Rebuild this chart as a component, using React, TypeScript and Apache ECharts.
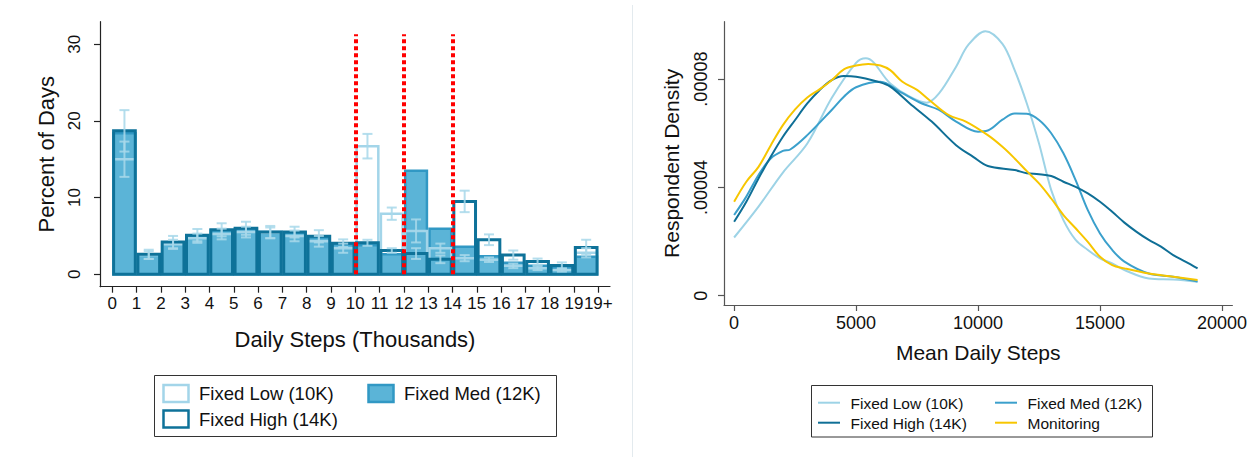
import React, { useEffect, useRef } from "react";
import * as echarts from "echarts";

// ---------- Left panel: histogram of daily steps ----------
const bins = [0, 1, 2, 3, 4, 5, 6, 7, 8, 9, 10, 11, 12, 13, 14, 15, 16, 17, 18, 19];
const binTicks = [0, 1, 2, 3, 4, 5, 6, 7, 8, 9, 10, 11, 12, 13, 14, 15, 16, 17, 18, 19, 20];
const binTickLabels = ["0", "1", "2", "3", "4", "5", "6", "7", "8", "9", "10", "11", "12", "13", "14", "15", "16", "17", "18", "19", "19+"];
const pctTicks = [0, 10, 20, 30];
const goalLines = [10, 12, 14];

const lowPct = [15.0, 2.5, 3.9, 4.7, 5.25, 5.5, 5.4, 5.0, 4.3, 3.4, 16.7, 7.9, 5.65, 3.4, 2.1, 1.9, 1.1, 0.8, 0.55, 2.8];
const medPct = [18.4, 2.6, 4.1, 5.0, 5.7, 5.9, 5.5, 5.4, 4.8, 3.9, 3.8, 2.6, 13.5, 5.95, 3.6, 2.35, 1.5, 1.1, 0.8, 2.3];
const highPct = [18.7, 2.6, 4.2, 5.1, 5.8, 6.0, 5.5, 5.5, 4.95, 4.05, 4.1, 3.1, 2.7, 1.95, 9.5, 4.5, 2.5, 1.65, 1.15, 3.5];
const lowErr = [2.3, 0.5, 0.6, 0.6, 0.7, 0.7, 0.7, 0.7, 0.7, 0.6, 1.6, 0.8, 1.5, 0.6, 0.4, 0.3, 0.3, 0.25, 0.2, 0.6];
const highErr = [2.7, 0.6, 0.8, 0.8, 0.85, 0.85, 0.8, 0.7, 0.8, 0.5, 0.4, 0.3, 0.7, 0.5, 1.4, 0.7, 0.6, 0.4, 0.4, 1.0];

// ---------- Right panel: respondent density of mean daily steps ----------
const stepTicks = [0, 5000, 10000, 15000, 20000];
const densityTicks = [0, 0.00004, 0.00008];

const lowDensity = [
  [0, 2.15e-5], [1000, 3.29e-5], [2000, 4.55e-5], [3000, 5.62e-5], [4000, 7.3e-5], [5000, 8.6e-5],
  [5400, 8.77e-5], [6400, 7.84e-5], [7200, 7.35e-5], [7900, 7.13e-5], [8400, 7.47e-5], [9100, 8.46e-5],
  [9600, 9.26e-5], [10300, 9.77e-5], [11000, 9.3e-5], [11500, 8.33e-5], [12000, 7.1e-5], [12500, 5.62e-5],
  [13000, 3.9e-5], [13500, 2.79e-5], [14000, 2.06e-5], [14500, 1.69e-5], [15000, 1.38e-5], [15500, 1.19e-5],
  [16000, 0.95e-5], [17000, 0.64e-5], [18000, 0.6e-5], [19000, 0.52e-5],
];
const medDensity = [
  [0, 2.98e-5], [500, 3.66e-5], [1000, 4.46e-5], [1500, 5.07e-5], [2000, 5.35e-5], [2300, 5.4e-5],
  [3000, 5.93e-5], [4000, 6.86e-5], [4500, 7.35e-5], [5000, 7.7e-5], [6000, 7.9e-5], [6800, 7.53e-5],
  [7700, 7.1e-5], [8400, 6.86e-5], [9100, 6.43e-5], [10000, 6.06e-5], [10400, 6.1e-5], [11000, 6.5e-5],
  [11500, 6.73e-5], [12000, 6.72e-5], [12500, 6.49e-5], [13000, 6.0e-5], [13500, 5.26e-5], [14000, 4.27e-5],
  [14500, 3.16e-5], [15000, 2.3e-5], [15500, 1.69e-5], [16000, 1.26e-5], [17000, 0.82e-5], [18000, 0.7e-5],
  [19000, 0.52e-5],
];
const highDensity = [
  [0, 2.73e-5], [500, 3.47e-5], [1000, 4.33e-5], [1500, 5.13e-5], [2000, 5.87e-5], [2500, 6.49e-5],
  [3000, 7.1e-5], [3500, 7.59e-5], [4000, 7.96e-5], [4500, 8.11e-5], [5000, 8.09e-5], [5900, 7.9e-5],
  [6400, 7.72e-5], [7200, 7.1e-5], [8100, 6.43e-5], [9100, 5.56e-5], [9800, 5.13e-5], [10400, 4.79e-5],
  [11500, 4.64e-5], [12000, 4.52e-5], [12500, 4.49e-5], [13000, 4.42e-5], [13500, 4.21e-5], [14000, 4.02e-5],
  [14500, 3.78e-5], [15000, 3.47e-5], [15500, 3.1e-5], [16000, 2.7e-5], [16500, 2.36e-5], [17000, 2.06e-5],
  [17500, 1.81e-5], [18000, 1.5e-5], [18500, 1.26e-5], [19000, 1.01e-5],
];
const monDensity = [
  [0, 3.47e-5], [500, 4.21e-5], [1000, 4.76e-5], [1500, 5.55e-5], [2000, 6.3e-5], [2500, 6.88e-5],
  [3000, 7.32e-5], [3500, 7.62e-5], [4000, 7.96e-5], [4500, 8.36e-5], [5000, 8.5e-5], [5500, 8.56e-5],
  [6000, 8.5e-5], [6400, 8.33e-5], [6900, 7.9e-5], [7500, 7.6e-5], [8000, 7.23e-5], [8800, 6.67e-5],
  [9500, 6.43e-5], [10400, 5.93e-5], [11000, 5.5e-5], [11500, 5.07e-5], [12000, 4.6e-5], [12500, 4.15e-5],
  [13000, 3.59e-5], [13500, 2.98e-5], [14000, 2.49e-5], [14500, 1.99e-5], [15000, 1.44e-5], [15500, 1.13e-5],
  [16000, 1.01e-5], [17000, 0.82e-5], [18000, 0.7e-5], [19000, 0.58e-5],
];

const FONT = "'Liberation Sans', Arial, Helvetica, sans-serif";
const TXT = "#111";
const C_LOW = "#a3d5e9";
const C_MED_FILL = "#5bb4d7";
const C_MED_LINE = "#3198c4";
const C_HIGH = "#0e7299";
const C_ERR = "#a8d8ea";
const L_LOW = "#9dd3e6";
const L_MED = "#3ba0cc";
const L_HIGH = "#0f6f96";
const L_MON = "#f7c600";

function barSeries(name: string, vals: number[], fill: string, stroke: string, lw: number) {
  return {
    type: "custom",
    name,
    xAxisIndex: 0,
    yAxisIndex: 0,
    data: vals.map((v, i) => [bins[i], v]),
    encode: { x: 0, y: 1 },
    renderItem: (_p: any, api: any) => {
      const x = api.value(0);
      const v = api.value(1);
      const p0 = api.coord([x, v]);
      const p1 = api.coord([x + 1, 0]);
      return {
        type: "rect",
        shape: { x: p0[0] + 1.3, y: p0[1], width: p1[0] - p0[0] - 2.6, height: p1[1] - p0[1] },
        style: { fill, stroke, lineWidth: lw },
      };
    },
  };
}

function errSeries(name: string, vals: number[], errs: number[]) {
  return {
    type: "custom",
    name,
    xAxisIndex: 0,
    yAxisIndex: 0,
    data: vals.map((v, i) => [bins[i] + 0.5, v - errs[i], v + errs[i]]),
    encode: { x: 0, y: [1, 2] },
    renderItem: (_p: any, api: any) => {
      const c = api.value(0);
      const top = api.coord([c, api.value(2)]);
      const bot = api.coord([c, api.value(1)]);
      const st = { stroke: C_ERR, lineWidth: 2, opacity: 0.85, fill: "none" };
      return {
        type: "group",
        children: [
          { type: "line", shape: { x1: top[0], y1: top[1], x2: bot[0], y2: bot[1] }, style: st },
          { type: "line", shape: { x1: top[0] - 5, y1: top[1], x2: top[0] + 5, y2: top[1] }, style: st },
          { type: "line", shape: { x1: bot[0] - 5, y1: bot[1], x2: bot[0] + 5, y2: bot[1] }, style: st },
        ],
      };
    },
  };
}

function lineSeries(name: string, pts: number[][], color: string) {
  return {
    type: "line",
    name,
    xAxisIndex: 1,
    yAxisIndex: 1,
    data: pts,
    smooth: 0.35,
    showSymbol: false,
    symbol: "none",
    lineStyle: { color, width: 2 },
  };
}

const axisCommon = {
  axisLine: { onZero: false, lineStyle: { color: "#222", width: 1.2 } },
  axisTick: { length: 6, lineStyle: { color: "#222", width: 1.2 } },
  splitLine: { show: false },
};

export default function App() {
  const ref = useRef<HTMLDivElement>(null);
  useEffect(() => {
    document.body.style.margin = "0";
    const chart = echarts.init(ref.current!, null, { renderer: "svg" });
    const option: any = {
      animation: false,
      backgroundColor: "#fff",
      textStyle: { fontFamily: FONT },
      grid: [
        { left: 100, top: 21.7, width: 510, height: 265 },
        { left: 724, top: 21.7, width: 517.7, height: 283.3 },
      ],
      xAxis: [
        {
          type: "value",
          gridIndex: 0,
          min: -0.506,
          max: 20.48,
          ...axisCommon,
          axisTick: { ...axisCommon.axisTick, customValues: binTicks },
          axisLabel: {
            customValues: binTicks,
            formatter: (v: number) => binTickLabels[binTicks.indexOf(Math.round(v))] ?? "",
            color: TXT,
            fontSize: 17,
            fontFamily: FONT,
            margin: 8,
            hideOverlap: false,
          },
          name: "Daily Steps (Thousands)",
          nameLocation: "middle",
          nameGap: 42,
          nameTextStyle: { color: TXT, fontSize: 22, fontFamily: FONT },
        },
        {
          type: "value",
          gridIndex: 1,
          min: -415,
          max: 20427,
          ...axisCommon,
          axisLine: { onZero: false, lineStyle: { color: "#555", width: 1.2 } },
          axisTick: { length: 6, lineStyle: { color: "#555", width: 1.2 }, customValues: stepTicks },
          axisLabel: {
            customValues: stepTicks,
            formatter: (v: number) => String(Math.round(v)),
            color: TXT,
            fontSize: 18,
            fontFamily: FONT,
            margin: 9,
          },
          name: "Mean Daily Steps",
          nameLocation: "middle",
          nameGap: 37,
          nameTextStyle: { color: TXT, fontSize: 21, fontFamily: FONT },
        },
      ],
      yAxis: [
        {
          type: "value",
          gridIndex: 0,
          min: -1.62,
          max: 32.93,
          ...axisCommon,
          axisTick: { ...axisCommon.axisTick, customValues: pctTicks },
          axisLabel: {
            customValues: pctTicks,
            rotate: 90,
            color: TXT,
            fontSize: 17,
            fontFamily: FONT,
            margin: 17,
          },
          name: "Percent of Days",
          nameLocation: "middle",
          nameGap: 43,
          nameTextStyle: { color: TXT, fontSize: 22, fontFamily: FONT },
        },
        {
          type: "value",
          gridIndex: 1,
          min: -3.43e-6,
          max: 1.012e-4,
          ...axisCommon,
          axisLine: { onZero: false, lineStyle: { color: "#555", width: 1.2 } },
          axisTick: { length: 6, lineStyle: { color: "#555", width: 1.2 }, customValues: densityTicks },
          axisLabel: {
            customValues: densityTicks,
            rotate: 90,
            formatter: (v: number) => (v === 0 ? "0" : v.toFixed(5).replace(/^0/, "")),
            color: TXT,
            fontSize: 18,
            fontFamily: FONT,
            margin: 14,
          },
          name: "Respondent Density",
          nameLocation: "middle",
          nameGap: 42,
          nameTextStyle: { color: TXT, fontSize: 21, fontFamily: FONT },
        },
      ],
      series: [
        barSeries("Fixed Med (12K)", medPct, C_MED_FILL, C_MED_LINE, 2.5),
        barSeries("Fixed Low (10K)", lowPct, "none", C_LOW, 2.5),
        barSeries("Fixed High (14K)", highPct, "none", C_HIGH, 3),
        errSeries("Fixed Low CI", lowPct, lowErr),
        {
          ...errSeries("Fixed High CI", highPct, highErr),
          markLine: {
            silent: true,
            symbol: "none",
            label: { show: false },
            lineStyle: { color: "#ff0000", width: 4, type: [4, 3], opacity: 1 },
            data: goalLines.map((g) => [{ coord: [g, 0] }, { coord: [g, 31.3] }]),
          },
        },
        lineSeries("Fixed Low (10K)", lowDensity, L_LOW),
        lineSeries("Fixed Med (12K)", medDensity, L_MED),
        lineSeries("Fixed High (14K)", highDensity, L_HIGH),
        lineSeries("Monitoring", monDensity, L_MON),
      ],
      graphic: [
        { type: "line", shape: { x1: 632.5, y1: 5, x2: 632.5, y2: 457 }, style: { stroke: "#e3eaee", lineWidth: 1 } },
        // left legend
        { type: "rect", shape: { x: 154.5, y: 375.5, width: 402, height: 61 }, style: { fill: "#fff", stroke: "#333", lineWidth: 1 } },
        { type: "rect", shape: { x: 163.5, y: 385, width: 25, height: 17 }, style: { fill: "#fff", stroke: C_LOW, lineWidth: 2.5 } },
        { type: "text", x: 199, y: 393.5, style: { text: "Fixed Low (10K)", fill: TXT, font: `18.5px ${FONT}`, verticalAlign: "middle" } },
        { type: "rect", shape: { x: 368.5, y: 385, width: 25, height: 17 }, style: { fill: C_MED_FILL, stroke: C_MED_LINE, lineWidth: 2.5 } },
        { type: "text", x: 404, y: 393.5, style: { text: "Fixed Med (12K)", fill: TXT, font: `18.5px ${FONT}`, verticalAlign: "middle" } },
        { type: "rect", shape: { x: 163.5, y: 410.5, width: 25, height: 17 }, style: { fill: "#fff", stroke: C_HIGH, lineWidth: 2.5 } },
        { type: "text", x: 199, y: 419.5, style: { text: "Fixed High (14K)", fill: TXT, font: `18.5px ${FONT}`, verticalAlign: "middle" } },
        // right legend
        { type: "rect", shape: { x: 811.5, y: 385.5, width: 341, height: 51.5 }, style: { fill: "#fff", stroke: "#333", lineWidth: 1 } },
        { type: "line", shape: { x1: 818, y1: 402.7, x2: 840, y2: 402.7 }, style: { stroke: L_LOW, lineWidth: 2 } },
        { type: "text", x: 850.5, y: 403, style: { text: "Fixed Low (10K)", fill: TXT, font: `15.5px ${FONT}`, verticalAlign: "middle" } },
        { type: "line", shape: { x1: 995, y1: 402.7, x2: 1017, y2: 402.7 }, style: { stroke: L_MED, lineWidth: 2 } },
        { type: "text", x: 1027.5, y: 403, style: { text: "Fixed Med (12K)", fill: TXT, font: `15.5px ${FONT}`, verticalAlign: "middle" } },
        { type: "line", shape: { x1: 818, y1: 422.7, x2: 840, y2: 422.7 }, style: { stroke: L_HIGH, lineWidth: 2 } },
        { type: "text", x: 850.5, y: 423, style: { text: "Fixed High (14K)", fill: TXT, font: `15.5px ${FONT}`, verticalAlign: "middle" } },
        { type: "line", shape: { x1: 995, y1: 422.7, x2: 1017, y2: 422.7 }, style: { stroke: L_MON, lineWidth: 2 } },
        { type: "text", x: 1027.5, y: 423, style: { text: "Monitoring", fill: TXT, font: `15.5px ${FONT}`, verticalAlign: "middle" } },
      ],
    };
    chart.setOption(option);
    return () => chart.dispose();
  }, []);
  return <div ref={ref} style={{ width: 1250, height: 459 }} />;
}
